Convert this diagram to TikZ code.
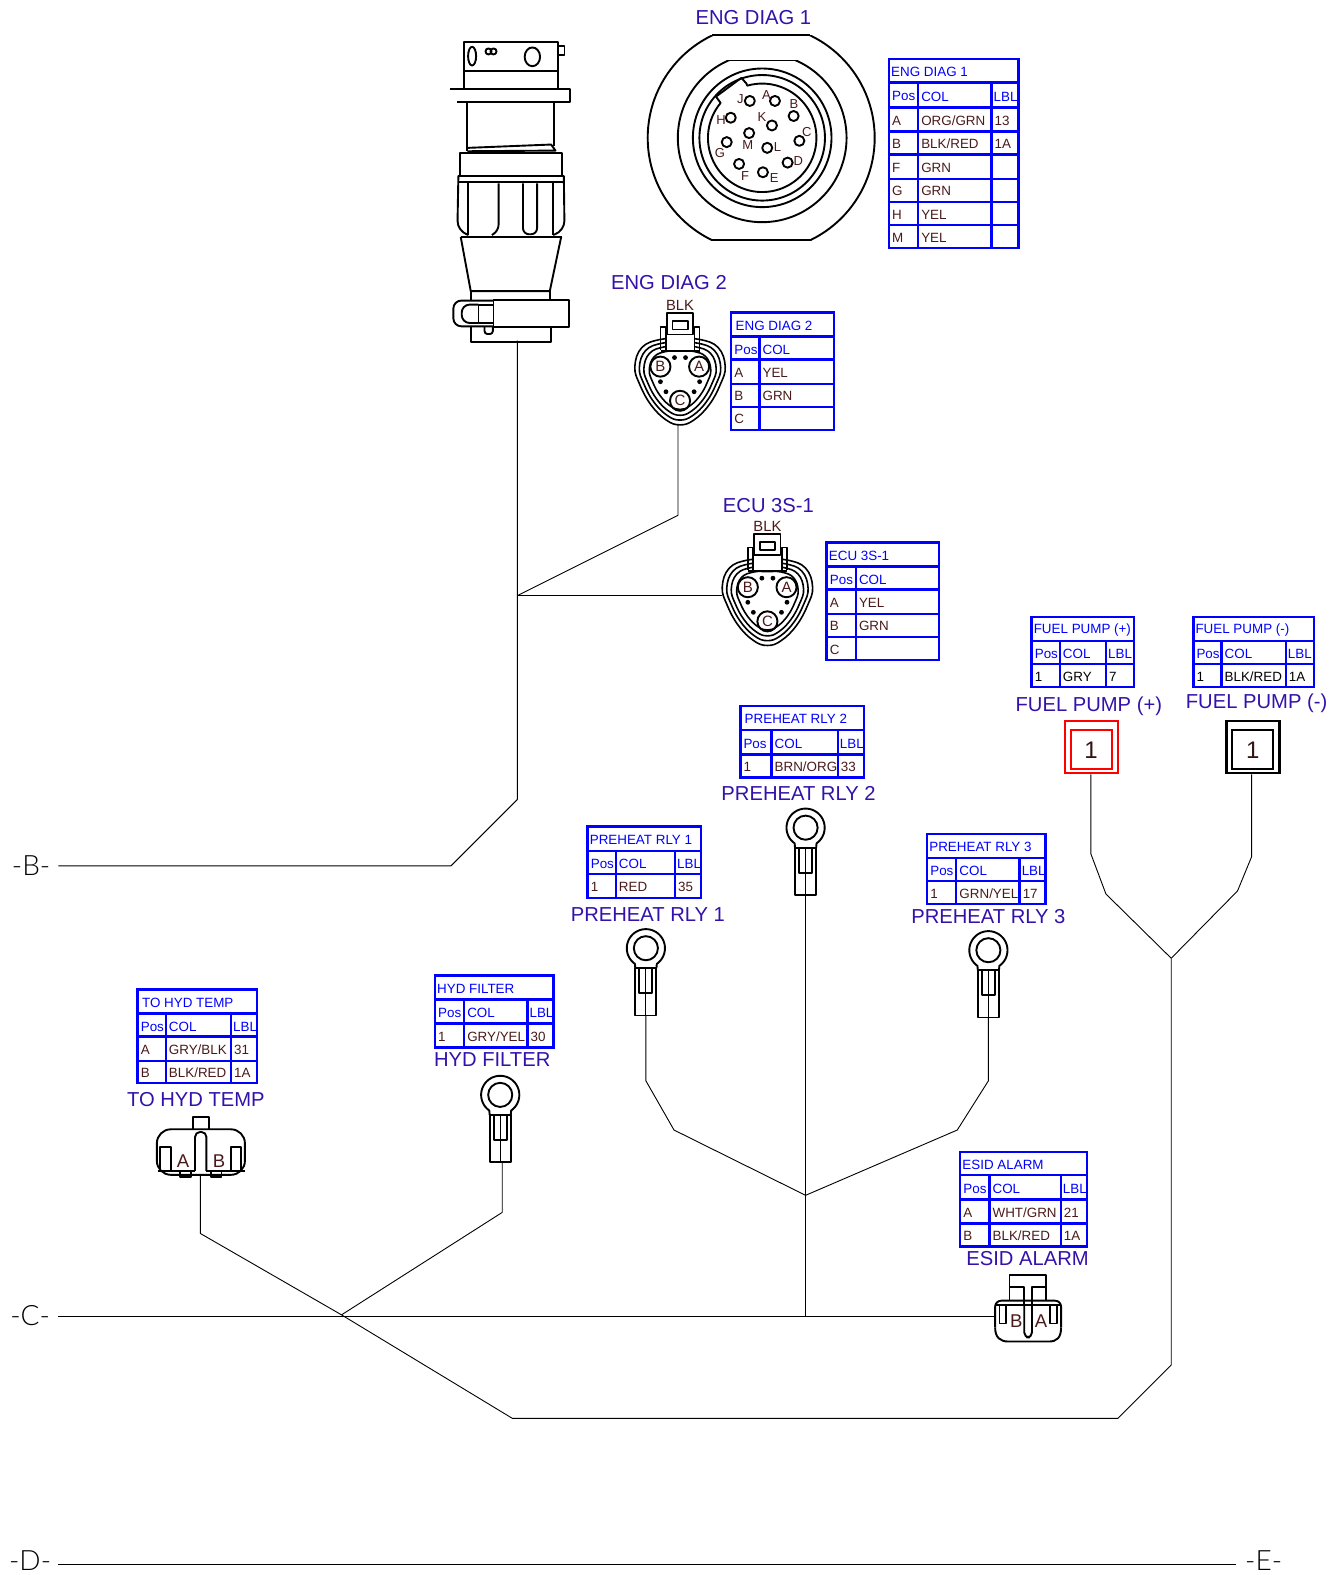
\documentclass[tikz,border=0pt]{standalone}
\usepackage{fontspec}
\setmainfont{Liberation Sans}
\newfontfamily\thinfont[UprightFont=* Light]{Lato}
\usetikzlibrary{
    positioning,           % Relative positioning
    calc                   % Coordinate calculations
}
\definecolor{tabblue}{RGB}{0,0,255}
\definecolor{titlecol}{RGB}{51,17,170}
\definecolor{pincol}{RGB}{74,26,26}
\tikzset{
    connline/.style={line width=1.9pt,line join=round},
    wire/.style={line width=0.9pt,line join=round},
    tabline/.style={draw=tabblue,line width=2.4pt},
    tabhead/.style={text=tabblue,font=\fontsize{13.4}{15}\selectfont,inner sep=0pt,anchor=west},
    tabdata/.style={text=pincol,font=\fontsize{13.4}{15}\selectfont,inner sep=0pt,anchor=west},
    conntitle/.style={text=titlecol,font=\fontsize{20.2}{22}\selectfont,inner sep=0pt},
    pinlabel/.style={text=pincol,font=\fontsize{13}{15}\selectfont,inner sep=0pt},
    bigpin/.style={text=pincol,font=\fontsize{18.5}{20}\selectfont,inner sep=0pt},
    sheetref/.style={font=\thinfont\fontsize{28}{30}\selectfont,inner sep=0pt},
    pumpouter/.style={draw,line width=2.2pt,minimum width=53pt,minimum height=52.5pt,inner sep=0pt},
    pumpinner/.style={draw,line width=2.2pt,minimum width=41pt,minimum height=39pt,inner sep=0pt,
        text=pincol!70!black,font=\fontsize{24}{26}\selectfont},
    % ring terminal, origin in the eye
    pics/ringlug/.style={code={
        \draw[connline] (0,0) circle (12);
        \draw[connline] (-10.5,20) -- plot[domain=125:415,samples=60] (\x:19) -- (10.5,20);
        \draw[connline] (-10.5,20) rectangle (10.5,67);
        \draw[connline] (-6.5,20) rectangle (6.5,45);
        \draw[wire] (0,20) -- (0,67);
    }},
    % three pin connector, origin between the pins
    pics/threepin/.style={code={
        \foreach \s in {1,.9,.8,.68} {
            \draw[line width=1.6pt,scale=\s] plot[smooth cycle,tension=.7] coordinates {
                (0,-37.5) (20,-37) (38,-29) (45,-10) (40,8) (29,28) (14,43) (0,48)
                (-14,43) (-29,28) (-40,8) (-45,-10) (-38,-29) (-20,-37)};
        }
        \fill[white] (-14.4,-42) rectangle (14.4,-26);
        \draw[connline] (-13,-42) rectangle (13,-63);
        \draw[connline] (-7.5,-55) rectangle (7.5,-47);
        \draw[connline] (-19.4,-27) -- (-19.4,-49.5) -- (-14.4,-49.5) -- (-14.4,-27);
        \draw[connline] (19.4,-27) -- (19.4,-49.5) -- (14.4,-49.5) -- (14.4,-27);
        \draw[connline] (-19.4,-26) -- (19.4,-26);
        \foreach \px/\py in {19/-10,-19.5/-10,0/24} {
            \draw[connline] (\px,\py) circle (10);
        }
        \foreach \px/\py in {-5.5/-19,5.5/-19,-19.5/5,19.5/5,-14/15,14/15} {
            \fill (\px,\py) circle (2.4);
        }
        \node[pinlabel,font=\fontsize{15}{17}\selectfont] (-a) at (19,-10) {A};
        \node[pinlabel,font=\fontsize{15}{17}\selectfont] (-b) at (-19.5,-10) {B};
        \node[pinlabel,font=\fontsize{15}{17}\selectfont] (-c) at (0,24) {C};
        \node[pinlabel,font=\fontsize{14.8}{16}\selectfont] (-blk) at (0,-71) {BLK};
    }},
    % round twelve pin socket, origin in the middle
    pics/roundsocket/.style={code={
        \begin{scope}
            \clip (-120,-102) rectangle (120,102);
            \draw[connline] (0,0) circle (113);
        \end{scope}
        \draw[connline] (-48.8,-102) -- (48.8,-102);
        \draw[connline] (-48.8,102) -- (48.8,102);
        \begin{scope}[shift={(1,0)}]
            \begin{scope}
                \clip (-90,-77) rectangle (90,90);
                \draw[connline] (0,0) circle (84);
            \end{scope}
            \draw[connline] (-33.6,-77) -- (33.6,-77);
            \draw[connline] (0,0) circle (69);
            \draw[connline] (0,0) circle (62.5);
            \draw[connline] plot[domain=-106:220,samples=80] (\x:54) -- (-46,-41) -- (-20.7,-59.7) -- (-15.7,-54) -- cycle;
            \foreach \px/\py in {-12.3/-36.7,12.7/-36.7,31.3/-21.7,-31.3/-20,9.7/-12.3,37/3,-13/-4.7,-35.3/4.3,5/10,25.3/24.7,-23/26,.7/34.3} {
                \draw[connline] (\px,\py) circle (5);
            }
            \foreach \px/\py/\pin in {-21.7/-38.3/J,4.3/-42.7/A,31.7/-33.3/B,-41/-18/H,-.3/-20.7/K,44.3/-5.7/C,-14.3/7.3/M,-42/15.3/G,15.3/9/L,36/23.3/D,-17/38/F,12/40/E} {
                \node[pinlabel] (-\pin) at (\px,\py) {\pin};
            }
        \end{scope}
    }},
    % side view of the round plug
    pics/roundplug/.style={code={
        \begin{scope}[scale=1/3]
            \draw[connline] (72,35) rectangle (353,122);
            \draw[connline] (353,48) -- (372,48) -- (372,75) -- (353,75);
            \draw[connline] (96,78) ellipse (12 and 28);
            \draw[connline] (145,64) circle (9);
            \draw[connline] (160,64) circle (9);
            \draw[connline] (276,80) ellipse (23 and 28);
            \draw[connline] (72,122) -- (72,175);
            \draw[connline] (353,122) -- (353,175);
            \draw[connline] (30,175) -- (388,175) -- (388,216) -- (52,216);
            \draw[connline] (82,216) -- (82,362);
            \draw[connline] (340,216) -- (340,345);
            \draw[connline] (82,352) -- (332,342) -- (345,360) -- (82,362);
            \draw[connline] (60,435) -- (60,368) -- (365,368) -- (365,435);
            \draw[connline] (55,435) -- (370,435);
            \draw[connline] (55,455) -- (370,455);
            \draw[connline,rounded corners=10pt] (55,435) -- (52,600) -- (85,612);
            \draw[connline,rounded corners=10pt] (370,435) -- (372,600) -- (338,612);
            \draw[connline] (85,458) -- (85,612);
            \draw[connline,rounded corners=6pt] (175,458) -- (175,600) -- (155,612);
            \draw[connline,rounded corners=6pt] (248,458) -- (248,610) -- (290,610) -- (290,458);
            \draw[connline] (338,458) -- (338,612);
            \draw[connline] (62,618) -- (365,618);
            \draw[connline] (62,618) -- (92,780) -- (328,780) -- (362,618);
            \draw[connline] (92,780) -- (92,805);
            \draw[connline] (328,780) -- (328,805);
            \draw[connline] (160,805) rectangle (385,888);
            \draw[connline,rounded corners=8pt] (160,808) -- (40,808) -- (40,885) -- (160,885);
            \draw[connline] (115,820) rectangle (160,875);
            \draw[connline,rounded corners=8pt] (115,820) -- (65,820) -- (65,875) -- (115,875);
            \draw[connline,rounded corners=3pt] (133,885) -- (133,908) -- (158,908) -- (158,885);
            \draw[connline] (92,888) -- (92,932) -- (332,932) -- (332,888);
        \end{scope}
    }},
    % two pin housing seen from the front
    pics/temphousing/.style={code={
        \begin{scope}[scale=1/3]
            \draw[connline] (217,475) -- (217,438) -- (266,438) -- (266,475);
            \draw[connline,rounded corners=14pt] (241,476) -- (373,476) -- (373,612) -- (110,612) -- (110,476) -- cycle;
            \draw[connline,rounded corners=5pt] (224,600) -- (224,484) -- (258,484) -- (258,600);
            \draw[connline] (120,597) -- (120,528) -- (152,528) -- (152,597);
            \draw[connline] (332,597) -- (332,528) -- (362,528) -- (362,597);
            \draw[connline] (112,600) -- (224,600);
            \draw[connline] (258,600) -- (372,600);
            \draw[connline] (180,600) rectangle (212,618);
            \draw[connline] (272,600) rectangle (303,618);
            \node[bigpin] (-a) at (188,570) {A};
            \node[bigpin] (-b) at (296,570) {B};
        \end{scope}
    }},
    % two pin housing with the tab on top
    pics/alarmhousing/.style={code={
        \begin{scope}[scale=1/3]
            \draw[connline] (178,480) -- (178,403) -- (288,403) -- (288,480);
            \draw[connline] (178,440) -- (222,440) -- (222,490);
            \draw[connline] (245,490) -- (245,440) -- (288,440);
            \draw[connline,rounded corners=6pt] (135,560) -- (135,480) -- (332,480) -- (332,560);
            \draw[connline] (135,560) .. controls (135,590) and (150,602) .. (175,602) -- (295,602) .. controls (320,602) and (332,590) .. (332,560);
            \draw[connline] (135,492) -- (332,492);
            \draw[connline,rounded corners=5pt] (222,490) -- (222,590) -- (245,590) -- (245,490);
            \draw[connline] (148,492) -- (148,548) -- (168,548) -- (168,492);
            \draw[connline] (300,492) -- (300,548) -- (320,548) -- (320,492);
            \node[bigpin] (-b) at (198,540) {B};
            \node[bigpin] (-a) at (272,540) {A};
        \end{scope}
    }}
}
% name, columns, rules, title, rows
\newcommand{\conntab}[5]{
    \foreach \xa/\xb/\xc/\xd in {#2} {
        \foreach \ya/\yb/\yc in {#3} {
            \draw[tabline] (\xa,\ya) rectangle (\xd,\yb);
            \node[tabhead] (#1-title) at ($(\xa,{(\ya+\yb)/2})+(2,1)$) {#4};
            \draw[tabline] (\xa,\yb) rectangle (\xb,\yc);
            \draw[tabline] (\xb,\yb) rectangle (\xc,\yc);
            \draw[tabline] (\xc,\yb) rectangle (\xd,\yc);
            \node[tabhead] (#1-pos) at ($(\xa,{(\yb+\yc)/2})+(3,1.5)$) {Pos};
            \node[tabhead] (#1-col) at ($(\xb,{(\yb+\yc)/2})+(3,1.5)$) {COL};
            \ifdim \xc pt<\xd pt
                \node[tabhead] (#1-lbl) at ($(\xc,{(\yb+\yc)/2})+(2,1.5)$) {LBL};
            \fi
            \foreach \y/\p/\c/\l [remember=\y as \last (initially \yc)] in {#5} {
                \draw[tabline] (\xa,\last) rectangle (\xb,\y);
                \draw[tabline] (\xb,\last) rectangle (\xc,\y);
                \draw[tabline] (\xc,\last) rectangle (\xd,\y);
                \node[tabdata] (#1-\y-a) at ($(\xa,{(\last+\y)/2})+(3,1)$) {\p};
                \node[tabdata] (#1-\y-b) at ($(\xb,{(\last+\y)/2})+(3,1)$) {\c};
                \node[tabdata] (#1-\y-c) at ($(\xc,{(\last+\y)/2})+(3,1)$) {\l};
            }
        }
    }
}

\begin{document}
\begin{tikzpicture}[x=1.0045pt,y=-1.0045pt]
    \useasboundingbox (0,0) rectangle (1334,1568);

    % connectors
    \pic (plug) at (438,29.9) {roundplug};
    \pic (engone) at (757.8,137.2) {roundsocket};
    \pic (engtwo) at (677,375) {threepin};
    \pic (ecu) at (764,594.6) {threepin};
    \pic (rlyone) at (643,944) {ringlug};
    \pic (rlytwo) at (802,824) {ringlug};
    \pic (rlythree) at (984,946) {ringlug};
    \pic (hydfilter) at (498,1090) {ringlug};
    \pic (hydtemp) at (119.5,965.6) {temphousing};
    \pic (esid) at (945.7,1134.9) {alarmhousing};
    \node[pumpouter,draw=red] (pumpplus) at (1086.5,743.7) {};
    \node[pumpinner,draw=red] (pumpplusin) at (1086.3,746.5) {1};
    \node[pumpouter] (pumpminus) at (1247.5,743.7) {};
    \node[pumpinner] (pumpminusin) at (1247.3,746.5) {1};

    % titles
    \node[conntitle] (t-engone) at (750,17) {ENG DIAG 1};
    \node[conntitle] (t-engtwo) at (666,281) {ENG DIAG 2};
    \node[conntitle] (t-ecu) at (765,503) {ECU 3S-1};
    \node[conntitle] (t-pumpplus) at (1084,703) {FUEL PUMP (+)};
    \node[conntitle] (t-pumpminus) at (1251,700) {FUEL PUMP (-)};
    \node[conntitle] (t-rlytwo) at (795,790) {PREHEAT RLY 2};
    \node[conntitle] (t-rlyone) at (645,910) {PREHEAT RLY 1};
    \node[conntitle] (t-rlythree) at (984,912) {PREHEAT RLY 3};
    \node[conntitle] (t-hydfilter) at (490,1055) {HYD FILTER};
    \node[conntitle] (t-hydtemp) at (195,1095) {TO HYD TEMP};
    \node[conntitle] (t-esid) at (1023,1253) {ESID ALARM};

    % pin tables
    \conntab{tab-engone}{885/914/987/1014}{59/82/107}{ENG DIAG 1}{131/A/{ORG/GRN}/13,154/B/{BLK/RED}/1A,178/F/GRN/{},201/G/GRN/{},224/H/YEL/{},247/M/YEL/{}}
    \conntab{tab-engtwo}{728/756/830/830}{311/335/358}{\,ENG DIAG 2}{382/A/YEL/{},405/B/GRN/{},428/C/{}/{}}
    \conntab{tab-ecu}{823/852/935/935}{540/564/587}{ECU 3S-1}{611/A/YEL/{},634/B/GRN/{},657/C/{}/{}}
    \conntab{tab-rlytwo}{737/768/834/860}{703/727/751}{\,PREHEAT RLY 2}{774/1/{BRN/ORG}/33}
    \conntab{tab-rlyone}{585/613/672/698}{823/847/870}{PREHEAT RLY 1}{894/1/RED/35}
    \conntab{tab-rlythree}{923/952/1015/1041}{830/854/877}{PREHEAT RLY 3}{900/1/{GRN/YEL}/17}
    \conntab{tab-hydfilter}{433/462/525/551}{971/995/1019}{HYD FILTER}{1043/1/{GRY/YEL}/30}
    \conntab{tab-hydtemp}{137/165/230/256}{985/1009/1032}{\,TO HYD TEMP}{1056/A/{GRY/BLK}/31,1078/B/{BLK/RED}/1A}
    \conntab{tab-esid}{956/985/1056/1082}{1147/1170/1194}{ESID ALARM}{1218/A/{WHT/GRN}/21,1241/B/{BLK/RED}/1A}
    \begin{scope}[tabdata/.append style={text=black}]
        \conntab{tab-pumpplus}{1027/1055/1101/1129}{614/638/661}{FUEL PUMP (+)}{684/1/GRY/7}
        \conntab{tab-pumpminus}{1188/1216/1280/1308}{614/638/661}{FUEL PUMP (-)}{684/1/{BLK/RED}/1A}
    \end{scope}

    % sheet references
    \node[sheetref] (refb) at (31,862) {-B-};
    \node[sheetref] (refc) at (30,1310) {-C-};
    \node[sheetref] (refd) at (30,1554) {-D-};
    \node[sheetref] (refe) at (1258,1554) {-E-};
    \coordinate (refbend) at (58,862);
    \coordinate (refcend) at (58,1311);
    \coordinate (refdend) at (58,1557);
    \coordinate (refeend) at (1230,1557);

    % wire ends and junctions
    \coordinate (plugend) at (515,339);
    \coordinate (engtwoend) at (675,422);
    \coordinate (ecuend) at (719,593);
    \coordinate (splitecu) at (515,593);
    \coordinate (rlyoneend) at (643,1011);
    \coordinate (rlytwoend) at (802,890);
    \coordinate (rlythreeend) at (984,1013);
    \coordinate (splitrly) at (802,1190);
    \coordinate (splitesid) at (802,1311);
    \coordinate (hydfilterend) at (500,1157);
    \coordinate (hydtempend) at (199.5,1169);
    \coordinate (esidend) at (990.5,1311);
    \coordinate (splitc) at (340,1309);
    \coordinate (splitpump) at (1166,954);
    \coordinate (pumpplusend) at (1086,771);
    \coordinate (pumpminusend) at (1246,771);

    % wires
    \draw[wire] (plugend) -- (splitecu) -- (515,796) -- (449,862) -- (refbend);
    \draw[wire] (engtwoend) -- (675,513) -- (splitecu);
    \draw[wire] (ecuend) -- (splitecu);
    \draw[wire] (refcend) -- (esidend);
    \draw[wire] (rlytwoend) -- (splitesid);
    \draw[wire] (rlyoneend) -- (643,1076) -- (671,1125) -- (splitrly);
    \draw[wire] (rlythreeend) -- (984,1076) -- (953,1125) -- (splitrly);
    \draw[wire] (hydfilterend) -- (500,1207) -- (splitc);
    \draw[wire] (hydtempend) -- (199.5,1228) -- (splitc) -- (510,1412) -- (1113,1412) -- (1166,1359) -- (splitpump);
    \draw[wire] (pumpplusend) -- (1086,850) -- (1101,890) -- (splitpump);
    \draw[wire] (pumpminusend) -- (1246,853) -- (1232,887) -- (splitpump);
    \draw[wire] (refdend) -- (refeend);
\end{tikzpicture}
\end{document}
